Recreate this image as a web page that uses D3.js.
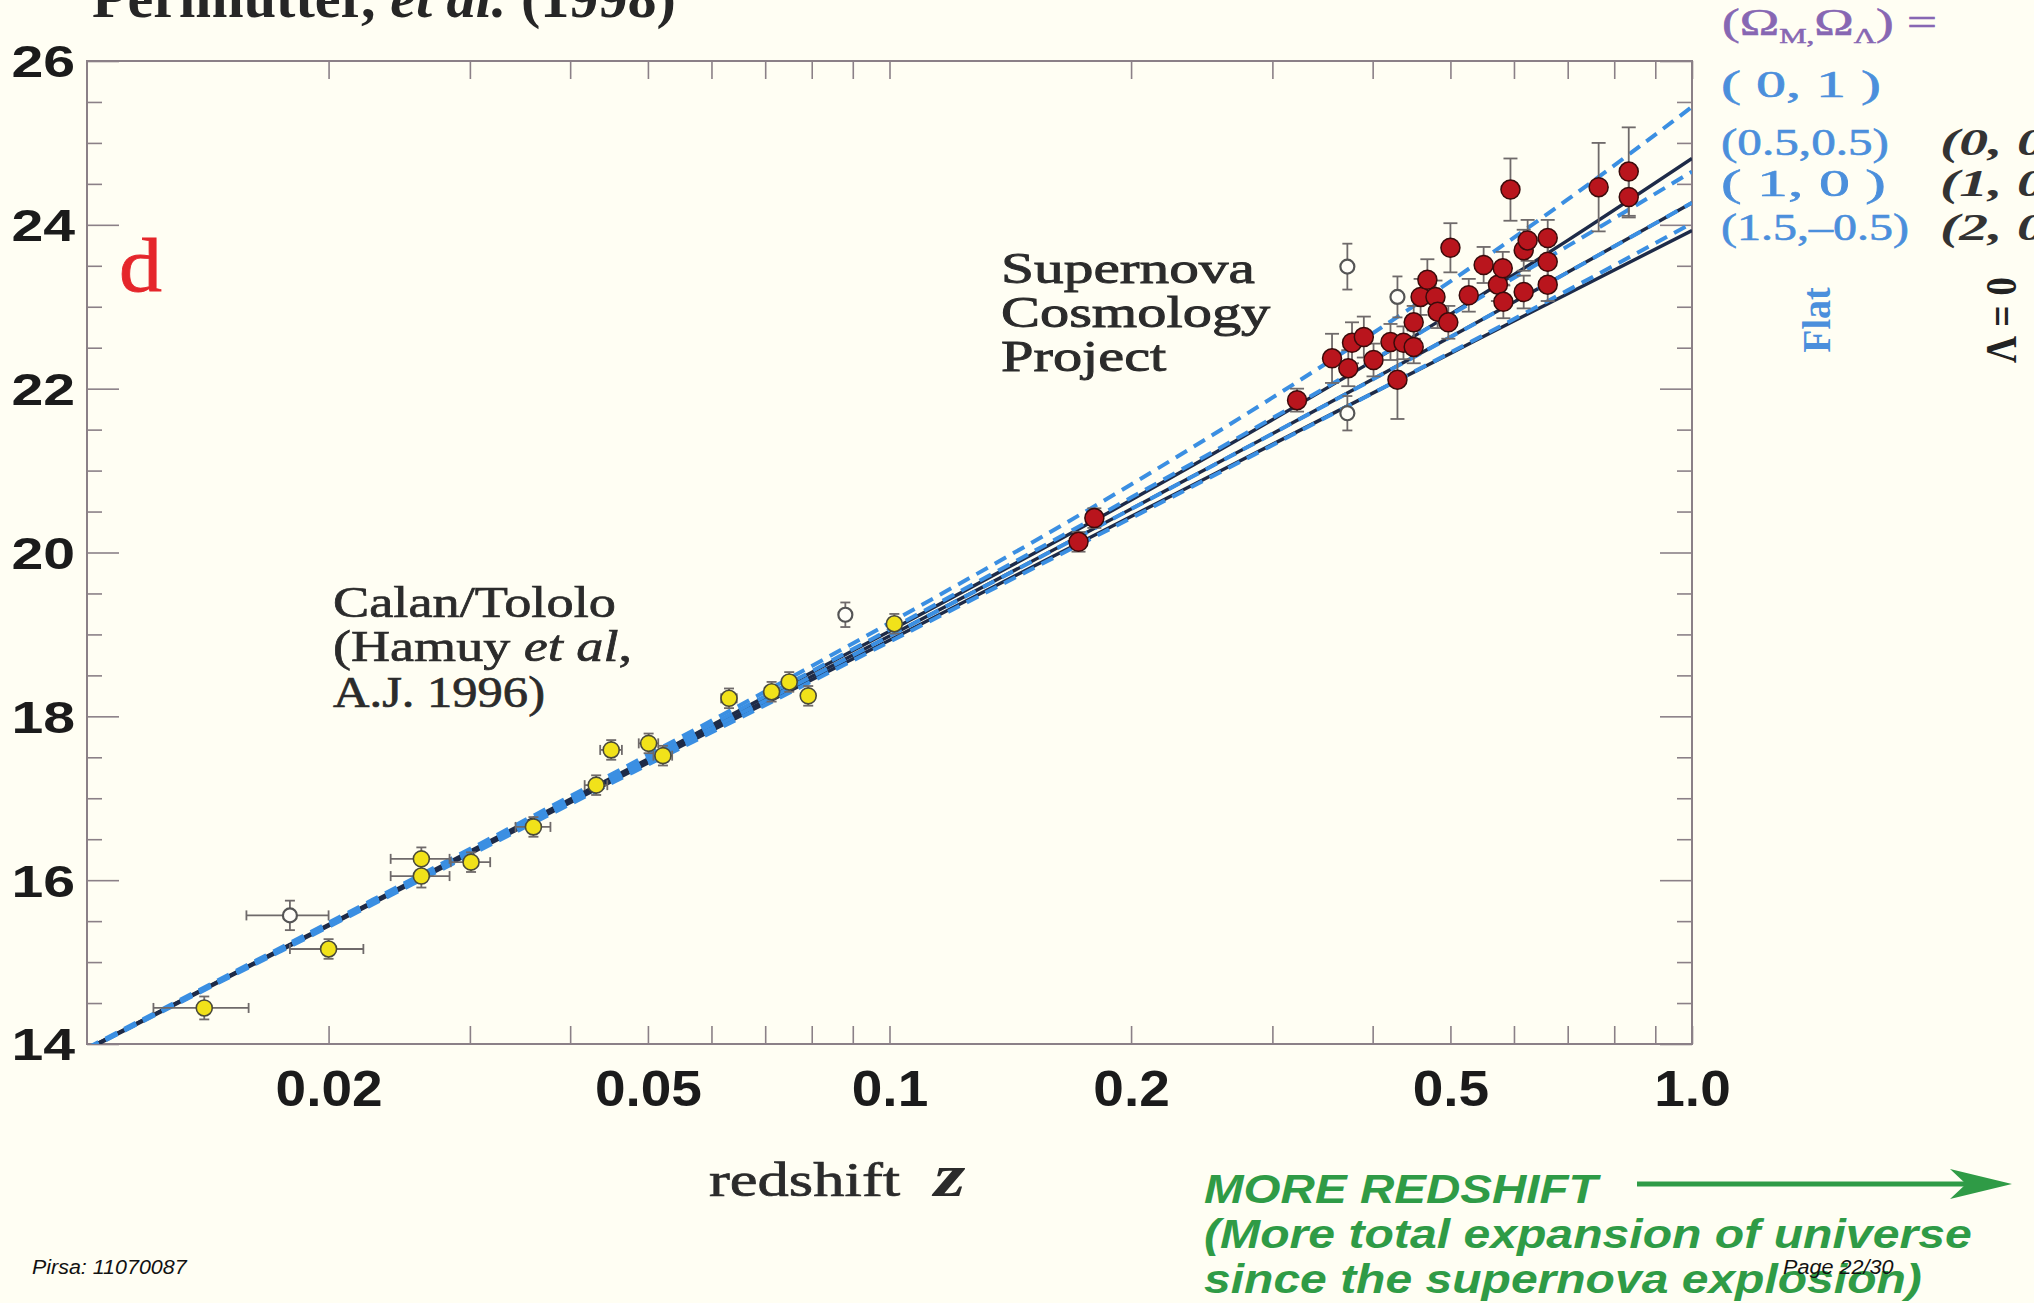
<!DOCTYPE html>
<html>
<head>
<meta charset="utf-8">
<script src="https://cdn.jsdelivr.net/npm/d3@7"></script>
<style>
  html, body { margin: 0; padding: 0; background: #fffef3; overflow: hidden; }
  svg { display: block; }
</style>
</head>
<body>
<svg id="chart"></svg>
<script>
// ---- data ----
// theory curves, magnitude at each redshift
const curveZ = [0.01, 0.02, 0.05, 0.1, 0.2, 0.3, 0.5, 0.7, 1.0];
const flat_0_1 = [13.95, 15.48, 17.53, 19.14, 20.83, 21.89, 23.31, 24.31, 25.44];
const flat_05_05 = [13.94, 15.46, 17.49, 19.06, 20.67, 21.64, 22.90, 23.74, 24.65];
const flat_1_0 = [13.94, 15.45, 17.45, 18.98, 20.53, 21.45, 22.63, 23.42, 24.27];
const flat_15_m05 = [13.93, 15.43, 17.41, 18.91, 20.42, 21.31, 22.44, 23.20, 24.02];
const open_0_0 = [13.94, 15.46, 17.48, 19.04, 20.64, 21.62, 22.91, 23.81, 24.81];
const closed_2_0 = [13.93, 15.44, 17.43, 18.93, 20.44, 21.32, 22.43, 23.16, 23.93];

// Calan/Tololo supernovae (yellow)
const ctZ = [0.0140, 0.0200, 0.0261, 0.0261, 0.0301, 0.0360, 0.0431, 0.0450, 0.0501, 0.0522, 0.0631, 0.0713, 0.0750, 0.0792, 0.1014];
const ctMag = [14.44, 15.16, 16.26, 16.05, 16.22, 16.65, 17.16, 17.59, 17.67, 17.52, 18.22, 18.30, 18.42, 18.25, 19.13];
const ctMagErr = [0.14, 0.12, 0.14, 0.14, 0.12, 0.12, 0.12, 0.12, 0.12, 0.12, 0.12, 0.12, 0.12, 0.12, 0.12];
const ctZErr = [0.0019, 0.0021, 0.0022, 0.0022, 0.0017, 0.0018, 0.0014, 0.0014, 0.0014, 0.0014, 0.0014, 0.0014, 0.0014, 0.0014, 0.0014];

// excluded supernovae (open circles)
const exZ = [0.0179, 0.0881, 0.372, 0.372, 0.4295];
const exMag = [15.57, 19.24, 23.49, 21.70, 23.12];
const exMagErr = [0.18, 0.15, 0.28, 0.21, 0.25];
const exZErr = [0.0021, 0, 0, 0, 0];

// Supernova Cosmology Project (red)
const scpZ = [0.172, 0.180, 0.322, 0.356, 0.373, 0.377, 0.390, 0.401, 0.421, 0.4295, 0.437, 0.450, 0.450, 0.459, 0.468, 0.479, 0.482,
  0.497, 0.500, 0.527, 0.550, 0.573, 0.581, 0.582, 0.594, 0.617, 0.617, 0.624, 0.661, 0.661, 0.661, 0.765, 0.834, 0.834];
const scpMag = [20.13, 20.42, 21.86, 22.37, 22.25, 22.56, 22.63, 22.35, 22.57, 22.11, 22.56, 22.51, 22.81, 23.12, 23.33, 23.12, 22.94,
  22.81, 23.72, 23.14, 23.51, 23.27, 23.47, 23.06, 24.43, 23.69, 23.18, 23.81, 23.84, 23.55, 23.27, 24.46, 24.65, 24.34];
const scpMagErr = [0.12, 0.12, 0.14, 0.30, 0.22, 0.25, 0.25, 0.20, 0.22, 0.48, 0.20, 0.20, 0.20, 0.22, 0.25, 0.20, 0.20,
  0.20, 0.30, 0.20, 0.22, 0.20, 0.20, 0.20, 0.38, 0.25, 0.20, 0.25, 0.22, 0.20, 0.20, 0.54, 0.54, 0.25];

// axis ticks and labels
const xTicks = [0.02, 0.03, 0.04, 0.05, 0.06, 0.07, 0.08, 0.09, 0.1, 0.2, 0.3, 0.4, 0.5, 0.6, 0.7, 0.8, 0.9, 1.0];
const xLabelValues = [0.02, 0.05, 0.1, 0.2, 0.5, 1.0];
const xLabelText = ['0.02', '0.05', '0.1', '0.2', '0.5', '1.0'];
const yMajor = [14, 16, 18, 20, 22, 24, 26];
const yMinor = [14.5, 15, 15.5, 16.5, 17, 17.5, 18.5, 19, 19.5, 20.5, 21, 21.5, 22.5, 23, 23.5, 24.5, 25, 25.5];

const flatLabels = ['( 0,  1 )', '(0.5,0.5)', '( 1,   0 )', '(1.5,\u20130.5)'];
const lambdaZeroLabels = ['(0, 0)', '(1, 0)', '(2, 0)'];

// ---- drawing ----
const W = 2034, H = 1303;
const serif = "'Liberation Serif', 'Times New Roman', serif";
const sans = "'Liberation Sans', Arial, sans-serif";
const axisColor = '#8b8087';

const svg = d3.select('#chart').attr('width', W).attr('height', H);
svg.append('rect').attr('width', W).attr('height', H).attr('fill', '#fffef3');

const plot = { left: 87, right: 1692, top: 61, bottom: 1044 };
const x = d3.scaleLog().domain([0.01, 1.0]).range([plot.left, plot.right]);
const y = d3.scaleLinear().domain([14, 26]).range([plot.bottom, plot.top]);

svg.append('defs').append('clipPath').attr('id', 'plot-clip')
  .append('rect')
  .attr('x', plot.left).attr('y', plot.top)
  .attr('width', plot.right - plot.left).attr('height', plot.bottom - plot.top);

function tickStyle(g) {
  g.select('.domain').remove();
  g.selectAll('line').attr('stroke', axisColor).attr('stroke-width', 1.6);
}

// ticks, all pointing inward
svg.append('g').attr('transform', `translate(0,${plot.bottom})`)
  .call(d3.axisBottom(x).tickValues(xTicks).tickSize(-18).tickFormat(''))
  .call(tickStyle);
svg.append('g').attr('transform', `translate(0,${plot.top})`)
  .call(d3.axisTop(x).tickValues(xTicks).tickSize(-18).tickFormat(''))
  .call(tickStyle);
svg.append('g').attr('transform', `translate(${plot.left},0)`)
  .call(d3.axisLeft(y).tickValues(yMajor).tickSize(-32).tickFormat(''))
  .call(tickStyle);
svg.append('g').attr('transform', `translate(${plot.left},0)`)
  .call(d3.axisLeft(y).tickValues(yMinor).tickSize(-15).tickFormat(''))
  .call(tickStyle);
svg.append('g').attr('transform', `translate(${plot.right},0)`)
  .call(d3.axisRight(y).tickValues(yMajor).tickSize(-32).tickFormat(''))
  .call(tickStyle);
svg.append('g').attr('transform', `translate(${plot.right},0)`)
  .call(d3.axisRight(y).tickValues(yMinor).tickSize(-15).tickFormat(''))
  .call(tickStyle);

// frame
svg.append('rect')
  .attr('x', plot.left).attr('y', plot.top)
  .attr('width', plot.right - plot.left).attr('height', plot.bottom - plot.top)
  .attr('fill', 'none').attr('stroke', axisColor).attr('stroke-width', 2);

// tick labels
const xl = svg.append('g').attr('transform', `translate(0,${plot.bottom})`)
  .call(d3.axisBottom(x).tickValues(xLabelValues).tickSize(0).tickFormat((d, i) => xLabelText[i]));
xl.select('.domain').remove();
xl.selectAll('text')
  .attr('y', 62).attr('dy', null)
  .attr('transform', 'scale(1.1,1)')
  .style('font-family', sans).style('font-size', '50px').style('font-weight', 'bold')
  .style('fill', '#1b1b1b');

const yl = svg.append('g').attr('transform', `translate(${plot.left},0)`)
  .call(d3.axisLeft(y).tickValues(yMajor).tickSize(0).tickFormat((d) => d));
yl.select('.domain').remove();
yl.selectAll('text')
  .attr('x', 0).attr('dy', '0.36em')
  .attr('transform', 'translate(-12,0) scale(1.3,1)')
  .style('font-family', sans).style('font-size', '44px').style('font-weight', 'bold')
  .style('fill', '#1b1b1b');

// theory curves
const line = d3.line()
  .x((d) => x(d[0]))
  .y((d) => y(d[1]))
  .curve(d3.curveMonotoneX);

const curves = svg.append('g').attr('clip-path', 'url(#plot-clip)');
[open_0_0, flat_1_0, closed_2_0].forEach((mags) => {
  curves.append('path')
    .attr('d', line(d3.zip(curveZ, mags)))
    .attr('fill', 'none')
    .attr('stroke', '#1e2b48')
    .attr('stroke-width', 3.4);
});
[flat_0_1, flat_05_05, flat_1_0, flat_15_m05].forEach((mags) => {
  curves.append('path')
    .attr('d', line(d3.zip(curveZ, mags)))
    .attr('fill', 'none')
    .attr('stroke', '#3b8fe2')
    .attr('stroke-width', 4)
    .attr('stroke-dasharray', '13,8');
});

// error bars
const errColor = '#6f6a6a';
function errorBars(zs, mags, dm, dz, cap) {
  const g = svg.append('g').attr('stroke', errColor).attr('stroke-width', 1.8).attr('fill', 'none');
  zs.forEach((z, i) => {
    const cx = x(z), y0 = y(mags[i] - dm[i]), y1 = y(mags[i] + dm[i]);
    g.append('line').attr('x1', cx).attr('x2', cx).attr('y1', y0).attr('y2', y1);
    g.append('line').attr('x1', cx - cap).attr('x2', cx + cap).attr('y1', y0).attr('y2', y0);
    g.append('line').attr('x1', cx - cap).attr('x2', cx + cap).attr('y1', y1).attr('y2', y1);
    if (dz && dz[i] > 0) {
      const cy = y(mags[i]), x0 = x(z - dz[i]), x1 = x(z + dz[i]);
      g.append('line').attr('x1', x0).attr('x2', x1).attr('y1', cy).attr('y2', cy);
      g.append('line').attr('x1', x0).attr('x2', x0).attr('y1', cy - cap).attr('y2', cy + cap);
      g.append('line').attr('x1', x1).attr('x2', x1).attr('y1', cy - cap).attr('y2', cy + cap);
    }
  });
}
errorBars(ctZ, ctMag, ctMagErr, ctZErr, 5);
errorBars(exZ, exMag, exMagErr, exZErr, 5);
errorBars(scpZ, scpMag, scpMagErr, null, 7);

// markers
svg.append('g').selectAll('circle')
  .data(d3.zip(ctZ, ctMag))
  .join('circle')
  .attr('cx', (d) => x(d[0])).attr('cy', (d) => y(d[1])).attr('r', 8)
  .attr('fill', '#f1e21a').attr('stroke', '#4a4a3a').attr('stroke-width', 1.6);

svg.append('g').selectAll('circle')
  .data(d3.zip(exZ, exMag))
  .join('circle')
  .attr('cx', (d) => x(d[0])).attr('cy', (d) => y(d[1])).attr('r', 7)
  .attr('fill', '#fffef8').attr('stroke', '#555').attr('stroke-width', 2.2);

svg.append('g').selectAll('circle')
  .data(d3.zip(scpZ, scpMag))
  .join('circle')
  .attr('cx', (d) => x(d[0])).attr('cy', (d) => y(d[1])).attr('r', 9.5)
  .attr('fill', '#b9151d').attr('stroke', '#3b0b0b').attr('stroke-width', 1.5);

// ---- text ----
function addText(parts, px, py, opts) {
  const t = svg.append('text')
    .attr('font-family', opts.family)
    .attr('font-size', opts.size)
    .attr('font-weight', opts.weight || 'normal')
    .attr('font-style', opts.style || 'normal')
    .attr('fill', opts.color)
    .attr('text-anchor', opts.anchor || 'start');
  if (opts.thick) t.attr('stroke', opts.color).attr('stroke-width', opts.thick);
  parts.forEach((p) => {
    if (typeof p === 'string') p = { t: p };
    const s = t.append('tspan').text(p.t);
    if (p.italic) s.attr('font-style', 'italic');
    if (p.size) s.attr('font-size', p.size);
    if (p.dy) s.attr('dy', p.dy);
  });
  const w = t.node().getBBox().width;
  const k = opts.width ? opts.width / w : 1;
  const rot = opts.rotate ? ` rotate(${opts.rotate})` : '';
  t.attr('transform', `translate(${px},${py})${rot} scale(${k},1)`);
  return t;
}

addText(['Perlmutter, ', { t: 'et al.', italic: true }, ' (1998)'], 92, 17,
  { family: serif, size: 56, weight: 'bold', color: '#262626', width: 584 });

addText(['d'], 119, 291, { family: serif, size: 76, color: '#e5262b', width: 43, thick: 0.8 });

const textGrey = '#2b2b2b';
const scpLines = [['Supernova'], ['Cosmology'], ['Project']];
const scpWidths = [254, 270, 166];
[283, 327, 371].forEach((by, i) => {
  addText(scpLines[i], 1001, by, { family: serif, size: 45, color: textGrey, width: scpWidths[i], thick: 0.9 });
});

addText(['Calan/Tololo'], 333, 617, { family: serif, size: 45, color: textGrey, width: 283, thick: 0.7 });
addText(['(Hamuy ', { t: 'et al', italic: true }, ','], 333, 661, { family: serif, size: 45, color: textGrey, width: 299, thick: 0.7 });
addText(['A.J. 1996)'], 333, 707, { family: serif, size: 45, color: textGrey, width: 212, thick: 0.7 });

addText(['redshift'], 709, 1196, { family: serif, size: 48, color: textGrey, width: 192, thick: 0.7 });
addText(['z'], 934, 1196, { family: serif, size: 62, weight: 'bold', style: 'italic', color: textGrey, width: 34 });

// legend on the right
addText(['(\u03A9', { t: 'M,', size: 22, dy: 8 }, { t: '\u03A9', dy: -8 }, { t: '\u039B', size: 22, dy: 8 }, { t: ') =', dy: -8 }],
  1722, 35, { family: serif, size: 38, color: '#8767b3', width: 215, thick: 0.6 });

const flatWidths = [160, 168, 165, 188];
[97, 155, 196, 240].forEach((by, i) => {
  addText([flatLabels[i]], 1721, by, { family: serif, size: 38, color: '#4b8fdc', width: flatWidths[i], thick: 0.6 });
});
[155, 196, 240].forEach((by, i) => {
  addText([lambdaZeroLabels[i]], 1940, by, { family: serif, size: 38, style: 'italic', weight: 'bold', color: '#333', width: 125 });
});

addText(['Flat'], 1830, 320, { family: serif, size: 40, weight: 'bold', color: '#4b8fdc', anchor: 'middle', rotate: -90, width: 66 });
addText(['\u039B = 0'], 2016, 320, { family: serif, size: 44, weight: 'bold', color: '#222', anchor: 'middle', rotate: -90, width: 86 });

// green note with arrow
const green = '#2f9b46';
addText(['MORE REDSHIFT'], 1204, 1203, { family: sans, size: 40, weight: 'bold', style: 'italic', color: green, width: 398 });
addText(['(More total expansion of universe'], 1204, 1248, { family: sans, size: 40, weight: 'bold', style: 'italic', color: green, width: 768 });
addText(['since the supernova explosion)'], 1204, 1293, { family: sans, size: 40, weight: 'bold', style: 'italic', color: green, width: 718 });

svg.append('line')
  .attr('x1', 1637).attr('x2', 1975).attr('y1', 1184).attr('y2', 1184)
  .attr('stroke', green).attr('stroke-width', 5);
svg.append('path')
  .attr('d', 'M2012,1184 L1950,1169 L1966,1184 L1950,1199 Z')
  .attr('fill', green);

// slide footer
addText(['Pirsa: 11070087'], 32, 1274, { family: sans, size: 21, style: 'italic', color: '#111', width: 156 });
addText(['Page 22/30'], 1783, 1274, { family: sans, size: 21, style: 'italic', color: '#111', width: 111 });
</script>
</body>
</html>
